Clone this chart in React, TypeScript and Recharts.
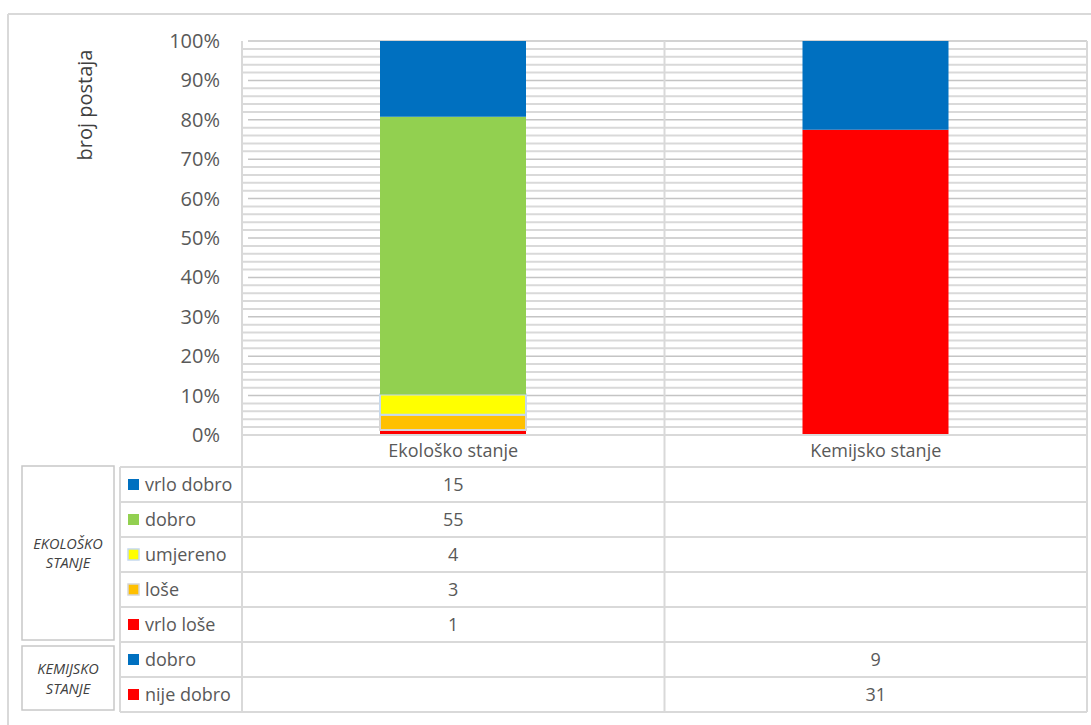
import {
  Bar,
  BarChart,
  CartesianGrid,
  XAxis,
  YAxis,
} from "recharts";

const categories = ["Ekološko stanje", "Kemijsko stanje"];

// rows of the data table, top to bottom
const rowLabels = ["vrlo dobro", "dobro", "umjereno", "loše", "vrlo loše", "dobro", "nije dobro"];
const rowKeys = ["ekoVrloDobro", "ekoDobro", "ekoUmjereno", "ekoLose", "ekoVrloLose", "kemDobro", "kemNijeDobro"];
const ekoloskoValues = [15, 55, 4, 3, 1, null, null];
const kemijskoValues = [null, null, null, null, null, 9, 31];

const rowColors = ["#0070C0", "#92D050", "#FFFF00", "#FFC000", "#FF0000", "#0070C0", "#FF0000"];
const rowStrokes = [undefined, undefined, "#C5D9EE", "#D6D6D6", undefined, undefined, undefined];

const yLabelTicks = [0, 10, 20, 30, 40, 50, 60, 70, 80, 90, 100];
const minorStep = 2; // percent

// stack bottom -> top
const stackOrder = [4, 3, 2, 1, 0, 6, 5];

const columns = [ekoloskoValues, kemijskoValues];
const chartData = categories.map((name, ci) => {
  const row: Record<string, string | number> = { name };
  rowKeys.forEach((k, ri) => {
    row[k] = columns[ci][ri] ?? 0;
  });
  return row;
});

const gridTicks: number[] = [];
for (let p = 0; p <= 100; p += minorStep) gridTicks.push(p / 100);

const W = 1091;
const H = 725;
const PLOT_LEFT = 242;
const PLOT_RIGHT = 1087;
const PLOT_TOP = 41;
const PLOT_BOTTOM = 435;
const CAT_ROW_BOTTOM = 467;
const ROW_H = 35;
const TABLE_BOTTOM = CAT_ROW_BOTTOM + ROW_H * rowLabels.length;
const ROW_LABEL_LEFT = 120;
const LINE = "#D9D9D9";
const TEXT = "#595959";
const FONT = "'Open Sans', sans-serif";

function YTick({ x, y, payload }: any) {
  const pct = Math.round(payload.value * 100);
  if (!yLabelTicks.includes(pct)) return null;
  return (
    <text x={x} y={y} dy={7} textAnchor="end" fontSize={20} fill={TEXT} fontFamily={FONT}>
      {pct}%
    </text>
  );
}

// minor gridlines light, every 10% a bit darker
function GridLine(props: any) {
  const { x1, x2, y1, y2, index } = props;
  const major = index % 5 === 0;
  return (
    <line
      x1={major ? x1 + 6 : x1}
      x2={x2}
      y1={y1}
      y2={y2}
      stroke={major ? "#C4C4C4" : LINE}
      strokeWidth={major ? 1.5 : 2}
    />
  );
}

function TableColumn({ x, payload, index }: any) {
  const vals = columns[index];
  return (
    <g>
      <text
        x={x}
        y={(PLOT_BOTTOM + CAT_ROW_BOTTOM) / 2 + 6}
        textAnchor="middle"
        fontSize={18}
        fill={TEXT}
        fontFamily={FONT}
      >
        {payload.value}
      </text>
      {vals.map((v, ri) =>
        v == null ? null : (
          <text
            key={ri}
            x={x}
            y={CAT_ROW_BOTTOM + ROW_H * ri + ROW_H / 2 + 6}
            textAnchor="middle"
            fontSize={18}
            fill={TEXT}
            fontFamily={FONT}
          >
            {v}
          </text>
        )
      )}
    </g>
  );
}

function TableFrame() {
  const colW = (PLOT_RIGHT - PLOT_LEFT) / categories.length;
  const vx = [PLOT_LEFT, ...categories.map((_, i) => PLOT_LEFT + colW * (i + 1))];
  const groupText = { textAnchor: "middle" as const, fontSize: 14.5, fontStyle: "italic", fill: "#404040", fontFamily: FONT };
  return (
    <svg
      width={W}
      height={H}
      style={{ position: "absolute", left: 0, top: 0, pointerEvents: "none" }}
    >
      {/* outer chart border */}
      <line x1={8} y1={14} x2={W} y2={14} stroke={LINE} strokeWidth={2} />
      <line x1={8} y1={14} x2={8} y2={H} stroke={LINE} strokeWidth={2} />

      {vx.map((xx, i) => (
        <line key={i} x1={xx} y1={PLOT_TOP} x2={xx} y2={TABLE_BOTTOM} stroke={LINE} strokeWidth={2} />
      ))}
      <line x1={PLOT_LEFT} y1={PLOT_BOTTOM} x2={PLOT_RIGHT} y2={PLOT_BOTTOM} stroke={LINE} strokeWidth={2} />
      {rowLabels.map((_, ri) => (
        <line
          key={ri}
          x1={ROW_LABEL_LEFT}
          y1={CAT_ROW_BOTTOM + ROW_H * ri}
          x2={PLOT_RIGHT}
          y2={CAT_ROW_BOTTOM + ROW_H * ri}
          stroke={LINE}
          strokeWidth={2}
        />
      ))}
      <line x1={ROW_LABEL_LEFT} y1={TABLE_BOTTOM} x2={PLOT_RIGHT} y2={TABLE_BOTTOM} stroke={LINE} strokeWidth={2} />
      <line x1={ROW_LABEL_LEFT} y1={CAT_ROW_BOTTOM} x2={ROW_LABEL_LEFT} y2={TABLE_BOTTOM} stroke={LINE} strokeWidth={2} />

      {/* row labels with legend keys */}
      {rowLabels.map((lab, ri) => {
        const cy = CAT_ROW_BOTTOM + ROW_H * ri + ROW_H / 2;
        return (
          <g key={ri}>
            <rect
              x={128}
              y={cy - 5.5}
              width={11}
              height={11}
              fill={rowColors[ri]}
              stroke={rowStrokes[ri]}
              strokeWidth={rowStrokes[ri] ? 1.5 : 0}
            />
            <text x={145} y={cy + 6} fontSize={18} fill={TEXT} fontFamily={FONT}>
              {lab}
            </text>
          </g>
        );
      })}

      {/* group boxes */}
      <rect x={22} y={466} width={92} height={174} fill="none" stroke="#C8C8C8" strokeWidth={1.5} />
      <text x={68} y={549} {...groupText}>EKOLOŠKO</text>
      <text x={68} y={568} {...groupText}>STANJE</text>
      <rect x={22} y={646} width={92} height={64} fill="none" stroke="#C8C8C8" strokeWidth={1.5} />
      <text x={68} y={674} {...groupText}>KEMIJSKO</text>
      <text x={68} y={694} {...groupText}>STANJE</text>

      {/* axis title */}
      <text
        x={0}
        y={0}
        transform="translate(92,105) rotate(-90)"
        textAnchor="middle"
        fontSize={20}
        fill="#404040"
        fontFamily={FONT}
      >
        broj postaja
      </text>
    </svg>
  );
}

export default function App() {
  return (
    <div style={{ position: "absolute", left: 0, top: 0, width: W, height: H, background: "#fff" }}>
      <BarChart
        width={W}
        height={H}
        data={chartData}
        stackOffset="expand"
        margin={{ top: PLOT_TOP, right: W - PLOT_RIGHT, bottom: 0, left: 0 }}
      >
        <CartesianGrid
          vertical={false}
          horizontal={(p: any) => <GridLine key={p.key ?? p.index} {...p} />}
          horizontalValues={gridTicks}
        />
        <XAxis
          dataKey="name"
          height={H - PLOT_BOTTOM}
          axisLine={false}
          tickLine={false}
          tick={<TableColumn />}
          interval={0}
        />
        <YAxis
          type="number"
          domain={[0, 1]}
          ticks={gridTicks}
          interval={0}
          width={PLOT_LEFT}
          axisLine={false}
          tickLine={false}
          tickSize={0}
          tickMargin={22}
          tick={<YTick />}
        />
        {stackOrder.map((ri) => (
          <Bar
            key={rowKeys[ri]}
            dataKey={rowKeys[ri]}
            stackId="a"
            barSize={146}
            fill={rowColors[ri]}
            stroke={rowStrokes[ri]}
            strokeWidth={rowStrokes[ri] ? 2 : 0}
            isAnimationActive={false}
          />
        ))}
      </BarChart>
      <TableFrame />
    </div>
  );
}
